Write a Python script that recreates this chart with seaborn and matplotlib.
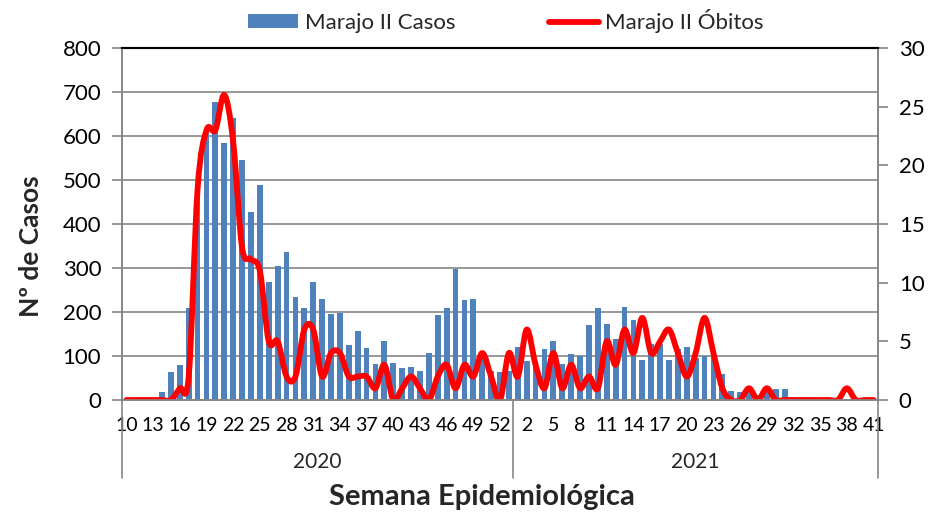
import numpy as np
import pandas as pd
import matplotlib
matplotlib.use("Agg")
import matplotlib.pyplot as plt
import seaborn as sns
from matplotlib.path import Path
from matplotlib.patches import PathPatch, Patch
from matplotlib.lines import Line2D

# semanas epidemiologicas
semanas_2020 = list(range(10, 54))
semanas_2021 = list(range(1, 42))

# casos por semana (eixo esquerdo)
casos_2020 = [0, 2, 7, 3, 19, 64, 80, 209, 473, 610,
              678, 585, 640, 545, 428, 489, 268, 305, 336, 233,
              208, 268, 230, 195, 197, 125, 157, 118, 82, 133,
              85, 72, 74, 66, 106, 193, 208, 297, 227, 230,
              100, 66, 64, 65]
casos_2021 = [120, 89, 89, 116, 135, 82, 104, 100, 171, 208,
              173, 138, 211, 182, 92, 127, 127, 92, 116, 121,
              95, 100, 100, 58, 21, 18, 20, 12, 20, 24,
              24, 0, 0, 0, 0, 0, 0, 0, 0, 0, 0]

# obitos por semana (eixo direito)
obitos_2020 = [0, 0, 0, 0, 0, 0, 1, 2, 18, 23,
               23, 26, 22, 13, 12, 11, 5, 5, 2, 2,
               6, 6, 2, 4, 4, 2, 2, 2, 1, 3,
               0, 1, 2, 1, 0, 2, 3, 1, 3, 2,
               4, 2, 0, 4]
obitos_2021 = [2, 6, 3, 1, 4, 1, 3, 1, 2, 1,
               5, 3, 6, 4, 7, 4, 5, 6, 4, 2,
               4, 7, 4, 1, 0, 0, 1, 0, 1, 0,
               0, 0, 0, 0, 0, 0, 0, 1, 0, 0, 0]

anos = ["2020", "2021"]

df = pd.DataFrame({
    "semana": [f"{s}/2020" for s in semanas_2020] + [f"{s}/2021" for s in semanas_2021],
    "rotulo": [str(s) for s in semanas_2020] + [str(s) for s in semanas_2021],
    "casos": casos_2020 + casos_2021,
    "obitos": obitos_2020 + obitos_2021,
})
n = len(df)
n2020 = len(semanas_2020)

sns.set_theme(style="white")
plt.rcParams["font.family"] = ["Lato", "DejaVu Sans"]

azul = "#4F81BD"
cinza = "#868686"

fig = plt.figure(figsize=(9.53, 5.14), dpi=100)
ax = fig.add_axes([122 / 953, 114 / 514, 756 / 953, 352 / 514])

sns.barplot(data=df, x="semana", y="casos", order=list(df["semana"]),
            color=azul, saturation=1, width=0.65, linewidth=0, ax=ax)
ax.set_xlim(-0.5, n - 0.5)
ax.set_ylim(0, 800)
ax.set_yticks(range(0, 801, 100))
ax.set_xlabel("")
ax.set_ylabel("")
ax.set_axisbelow(True)
ax.yaxis.grid(True, color=cinza, lw=1.2)
ax.xaxis.grid(False)

tick_pos = list(range(0, n, 3))
ax.set_xticks(tick_pos)
ax.set_xticklabels([df["rotulo"][i] for i in tick_pos])
ax.tick_params(axis="x", length=0, labelsize=14, pad=12, colors="black")
ax.tick_params(axis="y", direction="out", length=7, width=1.2, color=cinza,
               labelsize=16, pad=8, labelcolor="black")

# linha suavizada de obitos (curvas de Bezier, como no Excel)
ax2 = ax.twinx()
pts = np.column_stack([np.arange(n), df["obitos"].to_numpy()]).astype(float)
verts = [pts[0]]
codes = [Path.MOVETO]
for i in range(n - 1):
    p0 = pts[max(i - 1, 0)]
    p1 = pts[i]
    p2 = pts[i + 1]
    p3 = pts[min(i + 2, n - 1)]
    verts += [p1 + (p2 - p0) / 6, p2 - (p3 - p1) / 6, p2]
    codes += [Path.CURVE4] * 3
ax2.add_patch(PathPatch(Path(verts, codes), fill=False, edgecolor="#FF0000",
                        lw=4.2, capstyle="round", joinstyle="round"))
ax2.set_ylim(0, 30)
ax2.set_yticks(range(0, 31, 5))
ax2.set_xlim(-0.5, n - 0.5)
ax2.grid(False)
ax2.tick_params(axis="y", direction="out", length=7, width=1.2, color=cinza,
                labelsize=16, pad=8, labelcolor="black")

for a in (ax, ax2):
    for s in ["left", "right", "bottom"]:
        a.spines[s].set_color(cinza)
        a.spines[s].set_linewidth(1.2)
    a.spines["top"].set_color("black")
    a.spines["top"].set_linewidth(1.5)

# separadores dos anos e rotulos de ano
trans = ax.get_xaxis_transform()
for xb in [-0.5, n2020 - 0.5, n - 0.5]:
    ax.plot([xb, xb], [0, -78 / 352], transform=trans, color=cinza,
            lw=1.2, clip_on=False)
ax.text((n2020 - 1) / 2, -62 / 352, anos[0], transform=trans,
        ha="center", va="center", fontsize=15)
ax.text((n2020 + n - 1) / 2, -62 / 352, anos[1], transform=trans,
        ha="center", va="center", fontsize=15)

fig.text(482 / 953, 1 - 497 / 514, "Semana Epidemiológica", ha="center",
         va="center", fontsize=21, fontweight="bold")
fig.text(31 / 953, 1 - 246 / 514, "Nº de Casos", ha="center", va="center",
         rotation=90, fontsize=19, fontweight="bold")

handles = [Patch(facecolor=azul, edgecolor="none", label="Marajo II Casos"),
           Line2D([], [], color="#FF0000", lw=4.2, label="Marajo II Óbitos")]
fig.legend(handles=handles, loc="center", bbox_to_anchor=(506 / 953, 1 - 21 / 514),
           ncol=2, frameon=False, fontsize=16, handlelength=2.25,
           handleheight=0.55, columnspacing=4.2, handletextpad=0.3)

fig.savefig("out.png", dpi=100)
